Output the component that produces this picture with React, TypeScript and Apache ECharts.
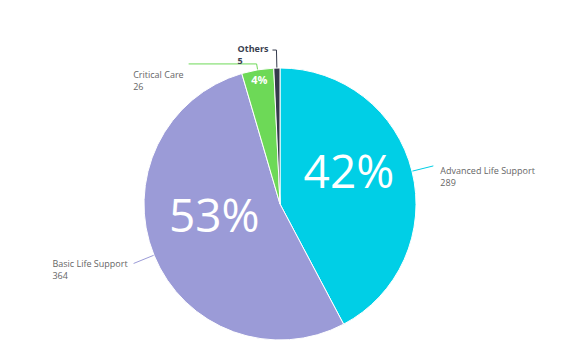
import React, { useEffect, useRef } from 'react';
import * as echarts from 'echarts';

const categories = ['Advanced Life Support', 'Basic Life Support', 'Critical Care', 'Others'];
const values = [289, 364, 26, 5];
const percentLabels = ['42%', '53%', '4%', ''];
const colors = ['#00cfe6', '#9b9bd7', '#6dd957', '#343a4c'];

export default function App() {
  const ref = useRef<HTMLDivElement>(null);
  useEffect(() => {
    document.body.style.margin = '0';
    const chart = echarts.init(ref.current!, null, { renderer: 'svg' });
    const center = [280, 204];
    const radius = 136;
    const font = '"Open Sans", sans-serif';
    const outer = [
      { length: 22, length2: 0, pad: 22, dist: 7 },
      { length: 22, length2: 0, pad: 13, dist: 6 },
      { length: 6, length2: 68, pad: 34, dist: 5 },
      { length: 18, length2: 4, pad: 8, dist: 4 },
    ];

    const mainData = categories.map((name, i) => ({
      name,
      value: values[i],
      itemStyle: { color: colors[i] },
      labelLine: { length: outer[i].length, length2: outer[i].length2 },
      label: {
        padding: [outer[i].pad, 0, 0, 0],
        distanceToLabelLine: outer[i].dist,
        formatter: i === 3 ? '{o|{b}}\n{o|{c}}' : '{n|{b}}\n{n|{c}}',
      },
    }));

    const bigData = categories.map((name, i) => ({
      name,
      value: values[i],
      label: { show: i < 2 },
    }));

    const ringData = categories.map((name, i) => ({
      name,
      value: values[i],
      label: { show: i === 2 },
    }));

    chart.setOption({
      animation: false,
      series: [
        {
          type: 'pie',
          center,
          radius,
          startAngle: 90,
          clockwise: true,
          avoidLabelOverlap: false,
          itemStyle: { borderColor: '#ffffff', borderWidth: 1 },
          emphasis: { disabled: true },
          label: {
            show: true,
            position: 'outside',
            fontFamily: font,
            rich: {
              n: { fontSize: 9, lineHeight: 12, color: '#666666', fontFamily: font, align: 'left' },
              o: { fontSize: 9, lineHeight: 12, color: '#3a3f51', fontWeight: 'bold', fontFamily: font, align: 'left' },
            },
          },
          labelLine: { show: true, lineStyle: { width: 1 } },
          data: mainData,
        },
        {
          type: 'pie',
          center,
          radius,
          startAngle: 90,
          clockwise: true,
          silent: true,
          avoidLabelOverlap: false,
          itemStyle: { color: 'rgba(0,0,0,0)', borderWidth: 0 },
          emphasis: { disabled: true },
          label: {
            show: true,
            position: 'inside',
            formatter: (p: any) => percentLabels[p.dataIndex],
            fontSize: 46,
            color: '#ffffff',
            fontFamily: font,
          },
          labelLayout: { dy: -17 },
          labelLine: { show: false },
          data: bigData,
        },
        {
          type: 'pie',
          center,
          radius: [110, radius],
          startAngle: 90,
          clockwise: true,
          silent: true,
          avoidLabelOverlap: false,
          itemStyle: { color: 'rgba(0,0,0,0)', borderWidth: 0 },
          emphasis: { disabled: true },
          label: {
            show: true,
            position: 'inside',
            formatter: (p: any) => percentLabels[p.dataIndex],
            fontSize: 11,
            fontWeight: 'bold',
            color: '#ffffff',
            fontFamily: font,
          },
          labelLine: { show: false },
          data: ringData,
        },
      ],
    });
    return () => chart.dispose();
  }, []);
  return <div ref={ref} style={{ width: 577, height: 360 }} />;
}
